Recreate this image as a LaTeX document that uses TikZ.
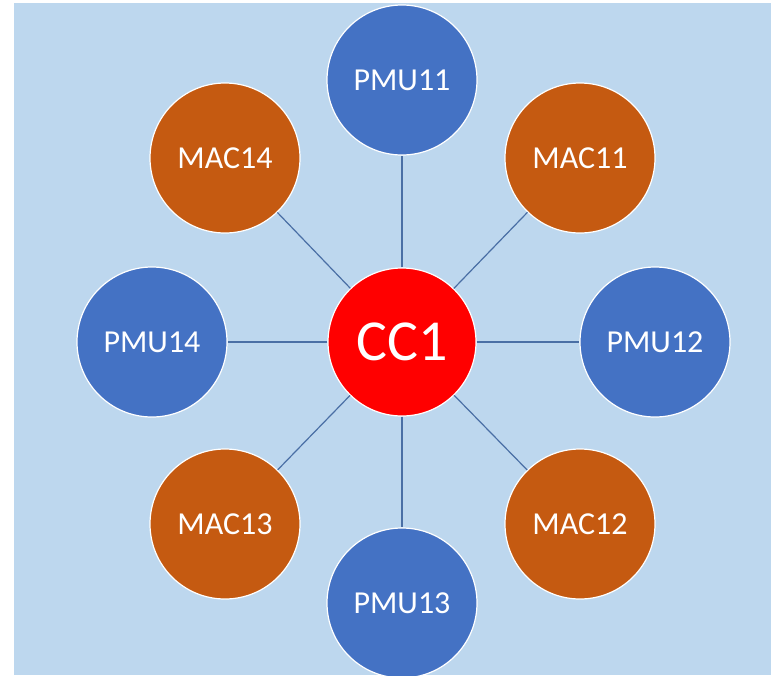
\documentclass[tikz,border=0pt]{standalone}
\usepackage{fontspec}
\setmainfont{Carlito}
\definecolor{bgblue}{HTML}{BDD7EE}
\definecolor{pmublue}{HTML}{4472C4}
\definecolor{macorange}{HTML}{C55A11}
\definecolor{ccred}{HTML}{FF0000}
\definecolor{linkblue}{HTML}{4A6FA5}
\begin{document}
\begin{tikzpicture}[x=1pt,y=-1pt,
  unit/.style={circle,draw=white,line width=1.2pt,minimum size=150pt,inner sep=0pt,text=white,font=\fontsize{32}{36}\selectfont},
  pmu/.style={unit,fill=pmublue},
  mac/.style={unit,fill=macorange},
  hub/.style={unit,fill=ccred,minimum size=148pt,font=\fontsize{58}{62}\selectfont},
  link/.style={draw=linkblue,line width=1.2pt}]
\useasboundingbox (0,0) rectangle (771,675);
\fill[white] (0,0) rectangle (771,675);
\fill[bgblue] (14,3) rectangle (771,675);
\node[hub] (cc) at (402,342) {CC1};
\node[pmu] (p11) at (402,80) {PMU11};
\node[pmu] (p12) at (655,342) {PMU12};
\node[pmu] (p13) at (402,603) {PMU13};
\node[pmu] (p14) at (152,342) {PMU14};
\node[mac] (m11) at (580,158) {MAC11};
\node[mac] (m12) at (580,524) {MAC12};
\node[mac] (m13) at (225,524) {MAC13};
\node[mac] (m14) at (225,158) {MAC14};
\foreach \n in {p11,p12,p13,p14,m11,m12,m13,m14}{\path[link] (cc) -- (\n);}
\end{tikzpicture}
\end{document}
